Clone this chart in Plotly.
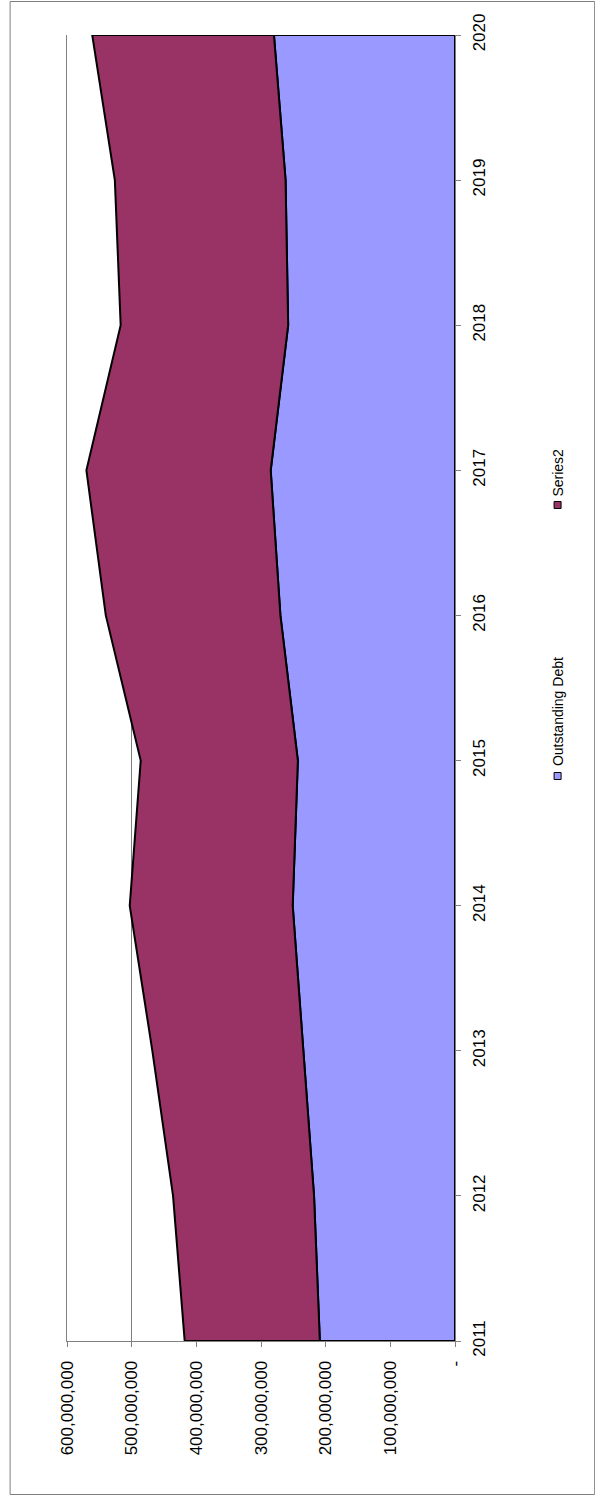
import plotly.graph_objects as go

# ---- data ----
years = [2011, 2012, 2013, 2014, 2015, 2016, 2017, 2018, 2019, 2020]
outstanding_debt = [209e6, 218e6, 234e6, 251e6, 243e6, 270e6, 285e6, 258e6, 262e6, 280e6]
series2 = [209e6, 218e6, 234e6, 252e6, 243e6, 270e6, 285e6, 259e6, 264e6, 281e6]
value_ticks = [0, 100e6, 200e6, 300e6, 400e6, 500e6, 600e6]
value_tick_labels = ["-", "100,000,000", "200,000,000", "300,000,000",
                     "400,000,000", "500,000,000", "600,000,000"]

BLUE = "#9999FF"
MAROON = "#993366"
OFF = 0  # body margin removed by post_script
W, H = 595 - OFF, 1496 - OFF
# target page-pixel positions of the plot area
PL, PR, PT, PB = 67.3, 454.6, 35, 1341
ML, MR, MT, MB = PL - OFF, W - (PR - OFF), PT - OFF, H - (PB - OFF)
PW, PH = W - ML - MR, H - MT - MB


def px(x):
    return (x - OFF - ML) / PW


def py(y):
    return 1 - (y - OFF - MT) / PH


totals = [a + b for a, b in zip(outstanding_debt, series2)]

fig = go.Figure()
fig.add_trace(go.Scatter(
    x=[0] + outstanding_debt + [0, 0],
    y=[years[0]] + years + [years[-1], years[0]],
    mode="lines", fill="toself", fillcolor=BLUE,
    line=dict(color="black", width=2), name="Outstanding Debt",
    showlegend=False, hoverinfo="skip"))
fig.add_trace(go.Scatter(
    x=totals + outstanding_debt[::-1] + [totals[0]],
    y=years + years[::-1] + [years[0]],
    mode="lines", fill="toself", fillcolor=MAROON,
    line=dict(color="black", width=2), name="Series2",
    showlegend=False, hoverinfo="skip"))

font = "Arial, Liberation Sans, sans-serif"

fig.update_layout(
    width=W, height=H,
    margin=dict(l=ML, r=MR, t=MT, b=MB, pad=0),
    paper_bgcolor="white", plot_bgcolor="white",
    font=dict(family=font, size=17, color="black"),
    showlegend=False,
    xaxis=dict(
        range=[600e6, 0], tickvals=value_ticks, ticktext=value_tick_labels,
        tickangle=-90, showgrid=True, gridcolor="#808080", gridwidth=1,
        showline=True, linecolor="#808080", linewidth=1,
        ticks="outside", ticklen=5, tickcolor="#808080",
        zeroline=False, tickfont=dict(size=17, family=font, color="black"),
        ticklabelstandoff=7,
    ),
    yaxis=dict(
        range=[years[0], years[-1]], tickvals=years,
        ticktext=[str(y) for y in years], side="right",
        tickangle=-90, showgrid=False, showline=True, mirror=True,
        linecolor="#808080", linewidth=1,
        ticks="outside", ticklen=5, tickcolor="#808080",
        zeroline=False, tickfont=dict(size=17, family=font, color="black"),
        ticklabelstandoff=4,
    ),
    shapes=[
        dict(type="rect", xref="paper", yref="paper",
             x0=px(10.5), x1=px(594), y0=py(1.5), y1=py(1494.5),
             line=dict(color="#808080", width=1), layer="below"),
        dict(type="rect", xref="paper", yref="paper",
             x0=px(553.5), x1=px(560.5), y0=py(772.5), y1=py(779.5),
             fillcolor=BLUE, line=dict(color="black", width=1)),
        dict(type="rect", xref="paper", yref="paper",
             x0=px(553.5), x1=px(560.5), y0=py(501.5), y1=py(508.5),
             fillcolor=MAROON, line=dict(color="black", width=1)),
    ],
    annotations=[
        dict(text="Outstanding Debt", xref="paper", yref="paper",
             x=px(557), y=py(768), xanchor="center", yanchor="bottom",
             textangle=-90, showarrow=False,
             font=dict(size=14, family=font, color="black")),
        dict(text="Series2", xref="paper", yref="paper",
             x=px(557), y=py(499), xanchor="center", yanchor="bottom",
             textangle=-90, showarrow=False,
             font=dict(size=14, family=font, color="black")),
    ],
)

fig.write_html(
    "out.html",
    config={"displayModeBar": False, "staticPlot": True},
    post_script="document.body.style.margin='0';document.body.style.overflow='hidden';",
)
